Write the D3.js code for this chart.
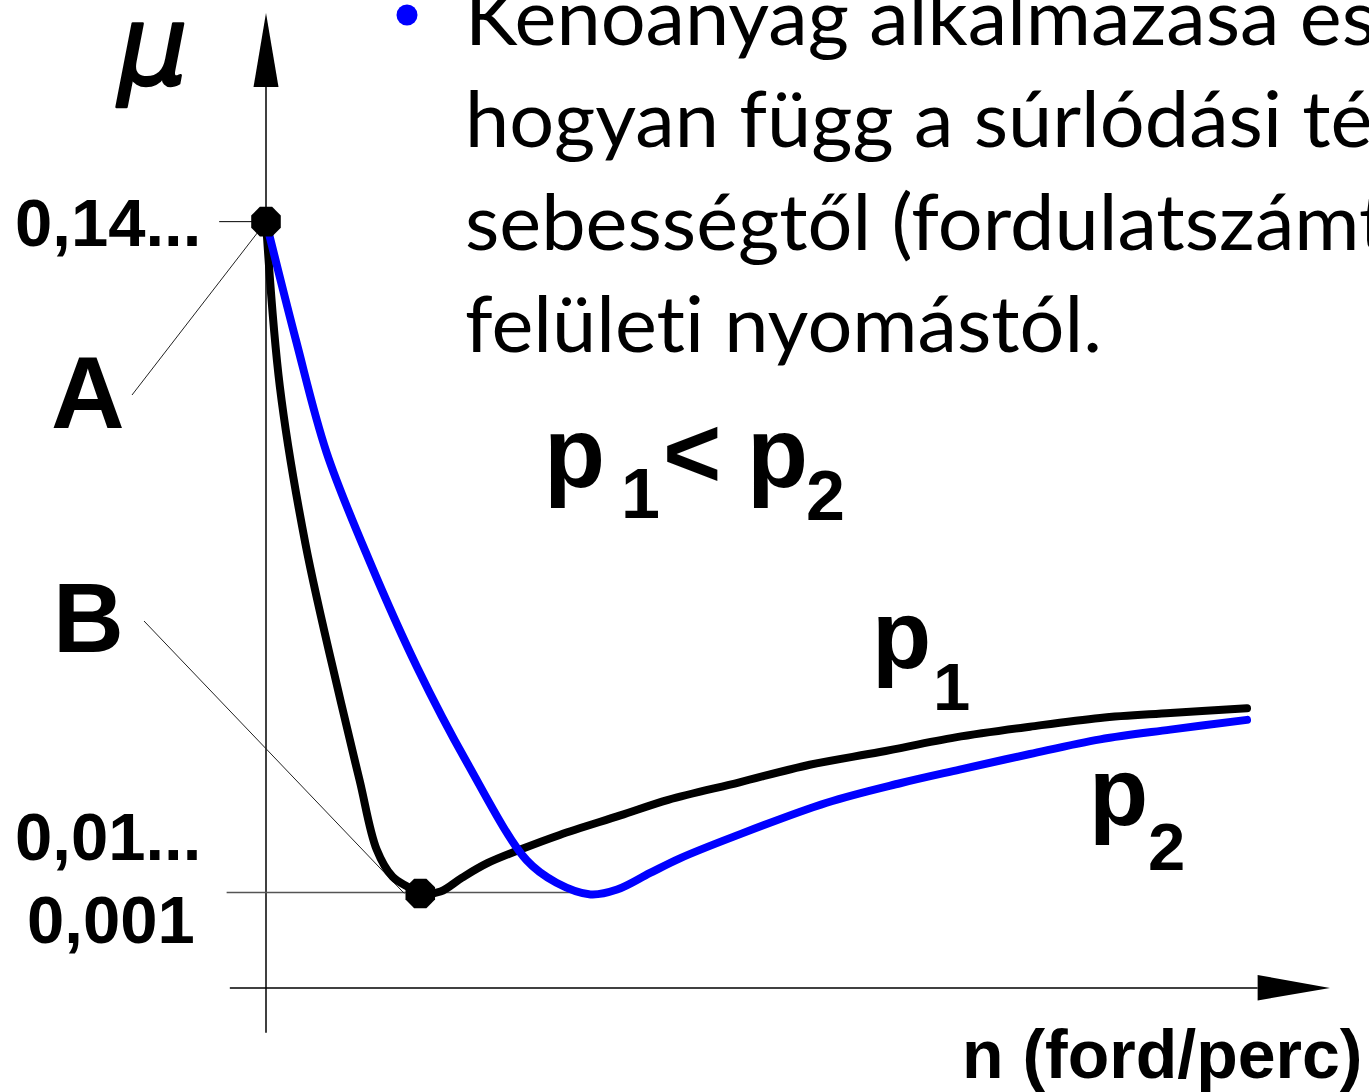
<!DOCTYPE html>
<html><head><meta charset="utf-8">
<script src="https://cdn.jsdelivr.net/npm/d3@7"></script>
<style>body{margin:0;background:#fff;overflow:hidden} text{font-variant-ligatures:none;font-feature-settings:"liga" 0}</style>
</head><body>
<script>
// ---- data (arbitrary schematic units: n 0..100, mu 0..100) ----
const n_p1  = [0,1.3,3.7,7.0,8.8,10.4,11.9,13.3,14.5,16.4,18.4,20.8,23.9,27.6,33.3,37.8,44.5,51.1,57.7,64.8,71.8,78.4,85.0,92.2];
const mu_p1 = [78.6,61.7,45.6,29.5,21.3,14.2,11.4,10.4,9.7,9.9,11.3,12.8,14.2,15.7,17.7,19.3,21.1,22.9,24.2,25.7,26.8,27.7,28.2,28.7];
const n_p2  = [0,2.8,5.7,9.8,14.2,18.9,24.5,27.3,30.5,33.0,36.1,38.9,43.9,52.7,59.6,65.2,71.8,78.4,85.0,92.2];
const mu_p2 = [78.6,66.5,54.9,43.6,32.9,23.1,13.1,10.8,9.6,10.1,11.8,13.3,15.5,19.0,21.0,22.4,24.0,25.5,26.5,27.5];
const tickLabels = ["0,14...", "0,01...", "0,001"];
const tickMu     = [78.6, 15.6, 7.1];
const tickX      = [15, 15, 27];
const pointNames = ["A", "B"];
const pointN     = [0, 14.5];
const pointMu    = [78.6, 9.7];
const bulletLines = ["Kenőanyag alkalmazása esetén", "hogyan függ a súrlódási tényező a", "sebességtől (fordulatszámtól) és a", "felületi nyomástól."];

const W = 1369, H = 1092;
const x = d3.scaleLinear().domain([0, 100]).range([266, 1330]);
const y = d3.scaleLinear().domain([0, 100]).range([988, 13]);

const svg = d3.select("body").append("svg").attr("width", W).attr("height", H)
  .style("background", "#fff");

// ---- axes ----
svg.append("line").attr("x1", x(0)).attr("x2", x(0)).attr("y1", y(-4.6)).attr("y2", y(92.4))
  .attr("stroke", "#000").attr("stroke-width", 1.5);
svg.append("path").attr("d", `M${x(0)},${y(100)} L${x(0)-12.5},${y(92.4)} L${x(0)+12.5},${y(92.4)} Z`).attr("fill", "#000");
svg.append("line").attr("x1", x(-3.4)).attr("x2", x(93.2)).attr("y1", y(0)).attr("y2", y(0))
  .attr("stroke", "#000").attr("stroke-width", 1.5);
svg.append("path").attr("d", `M${x(100)},${y(0)} L${x(93.2)},${y(0)-13} L${x(93.2)},${y(0)+12.5} Z`).attr("fill", "#000");

// ---- guides ----
svg.append("line").attr("x1", x(-4.4)).attr("x2", x(0)).attr("y1", y(pointMu[0])).attr("y2", y(pointMu[0]))
  .attr("stroke", "#000").attr("stroke-width", 1);
svg.append("line").attr("x1", x(-3.7)).attr("x2", x(29.9)).attr("y1", y(pointMu[1])-1).attr("y2", y(pointMu[1])-1)
  .attr("stroke", "#555").attr("stroke-width", 1.5);

// leader lines
svg.append("line").attr("x1", 132).attr("y1", 395).attr("x2", x(pointN[0])).attr("y2", y(pointMu[0]))
  .attr("stroke", "#222").attr("stroke-width", 1);
svg.append("line").attr("x1", 144).attr("y1", 621).attr("x2", x(pointN[1]) - 16).attr("y2", y(pointMu[1]))
  .attr("stroke", "#222").attr("stroke-width", 1);

// ---- curves ----
const line = d3.line().x(d => x(d[0])).y(d => y(d[1])).curve(d3.curveCatmullRom.alpha(0.5));
svg.append("path").datum(n_p1.map((v, i) => [v, mu_p1[i]])).attr("d", line)
  .attr("fill", "none").attr("stroke", "#000").attr("stroke-width", 8)
  .attr("stroke-linejoin", "round").attr("stroke-linecap", "round");
svg.append("path").datum(n_p2.map((v, i) => [v, mu_p2[i]])).attr("d", line)
  .attr("fill", "none").attr("stroke", "#0000ff").attr("stroke-width", 8)
  .attr("stroke-linejoin", "round").attr("stroke-linecap", "round");

// ---- point markers (octagons) ----
function octagon(cx, cy, r) {
  const pts = d3.range(8).map(k => {
    const a = Math.PI / 8 + k * Math.PI / 4;
    return [cx + r * Math.cos(a), cy + r * Math.sin(a)];
  });
  return "M" + pts.map(p => p.join(",")).join("L") + "Z";
}
pointNames.forEach((nm, i) => {
  svg.append("path").attr("d", octagon(x(pointN[i]), y(pointMu[i]), 16)).attr("fill", "#000");
});

// ---- labels ----
const bold = "'Liberation Sans', Arial, sans-serif";
tickLabels.forEach((t, i) => {
  svg.append("text").attr("x", tickX[i]).attr("y", y(tickMu[i]) + 24)
    .attr("font-family", bold).attr("font-weight", "bold").attr("font-size", 67).text(t);
});
svg.append("text").attr("x", 51).attr("y", 428).attr("font-family", bold).attr("font-weight", "bold")
  .attr("font-size", 102).text(pointNames[0]);
svg.append("text").attr("x", 53).attr("y", 652).attr("font-family", bold).attr("font-weight", "bold")
  .attr("font-size", 98).text(pointNames[1]);

// mu axis label
svg.append("text").attr("x", 118).attr("y", 84).attr("font-family", "'DejaVu Sans', sans-serif")
  .attr("font-style", "italic").attr("font-size", 110)
  .attr("stroke", "#000").attr("stroke-width", 2.5).attr("stroke-linejoin", "round").text("μ");

// n axis label
svg.append("text").attr("x", 962).attr("y", 1078).attr("font-family", bold).attr("font-weight", "bold")
  .attr("font-size", 68).text("n (ford/perc)");

// p1 < p2
function ptext(px, py, size, t) {
  svg.append("text").attr("x", px).attr("y", py).attr("font-family", bold).attr("font-weight", "bold")
    .attr("font-size", size).text(t);
}
ptext(544, 487, 100, "p");
ptext(621, 518, 70, "1");
ptext(663, 487, 100, "<");
ptext(747, 487, 100, "p");
ptext(806, 520, 70, "2");
// curve labels
ptext(872, 668, 97, "p");
ptext(933, 710, 67, "1");
ptext(1089, 825, 97, "p");
ptext(1148, 870, 67, "2");

// ---- bullet text ----
svg.append("circle").attr("cx", 407).attr("cy", 15).attr("r", 10.5).attr("fill", "#0000ff");
const g = svg.append("g");
const tl = bulletLines.map((t, i) =>
  g.append("text").attr("x", 0).attr("y", 45 + i * 102.3)
    .attr("font-family", "Lato, sans-serif").attr("font-size", 77).attr("fill", "#000").text(t));
const w4 = tl[3].node().getComputedTextLength();
const sx = 637 / w4;
g.attr("transform", `translate(465,0) scale(${sx},1)`);
</script>
</body></html>
